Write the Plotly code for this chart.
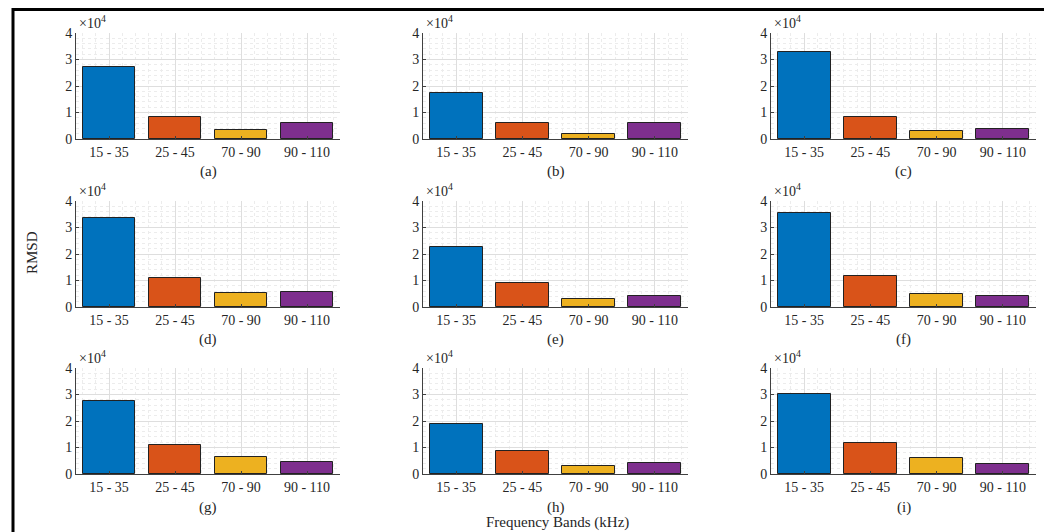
import plotly.graph_objects as go

W, H = 1052, 532
OFF = 8                      # page body margin in the browser
FW, FH = W - OFF, H - OFF    # figure size so that it ends at the window edge

bands = ["15 - 35", "25 - 45", "70 - 90", "90 - 110"]
panel_labels = ["(a)", "(b)", "(c)", "(d)", "(e)", "(f)", "(g)", "(h)", "(i)"]

rmsd_a = [27000, 8200, 3300, 6200]
rmsd_b = [17500, 6200, 1900, 6200]
rmsd_c = [33000, 8400, 3100, 3900]
rmsd_d = [33700, 10900, 5200, 5600]
rmsd_e = [22600, 8900, 3000, 4000]
rmsd_f = [35500, 11600, 4900, 4300]
rmsd_g = [27500, 10900, 6300, 4400]
rmsd_h = [19000, 8700, 3000, 4000]
rmsd_i = [30300, 11600, 6200, 3900]

y_ticks = [0, 10000, 20000, 30000, 40000]
y_ticktext = ["0", "1", "2", "3", "4"]

colors = ["#0072BD", "#D95319", "#EDB120", "#7E2F8E"]

series = [rmsd_a, rmsd_b, rmsd_c, rmsd_d, rmsd_e, rmsd_f, rmsd_g, rmsd_h, rmsd_i]

# layout geometry in page pixels
cols_px = [(76, 340), (423, 688), (771, 1036)]
rows_px = [(33, 139), (201, 307), (368, 474)]


def px(xp):
    return (xp - OFF) / FW


def py(yp):
    return 1 - (yp - OFF) / FH


FONT = "Liberation Serif, Times New Roman, serif"
TXT = "#262626"

fig = go.Figure()
annotations = []
x_pos = list(range(1, len(bands) + 1))

for k, vals in enumerate(series):
    r, c = divmod(k, 3)
    ax = "" if k == 0 else str(k + 1)
    fig.add_trace(go.Bar(
        x=x_pos, y=vals, width=0.8,
        marker=dict(color=colors, line=dict(color="#222222", width=1)),
        xaxis="x" + ax, yaxis="y" + ax, showlegend=False,
    ))
    x0, x1 = cols_px[c]
    y0, y1 = rows_px[r]
    common_grid = dict(
        showgrid=True, gridcolor="#dedede", gridwidth=1,
        showline=True, linecolor="#404040", linewidth=1,
        ticks="inside", ticklen=3, tickcolor="#404040",
        tickfont=dict(family=FONT, size=14, color=TXT),
        zeroline=False, fixedrange=True, automargin=False,
    )
    fig.layout["xaxis" + ax] = dict(
        domain=[px(x0), px(x1)], anchor="y" + ax,
        range=[0.5, 4.5], tickvals=x_pos, ticktext=bands,
        minor=dict(dtick=0.2, tick0=0, showgrid=True, gridcolor="#ececec",
                   griddash="dot", ticks=""),
        **common_grid,
    )
    fig.layout["yaxis" + ax] = dict(
        domain=[py(y1), py(y0)], anchor="x" + ax,
        range=[0, 40000], tickvals=y_ticks, ticktext=y_ticktext,
        minor=dict(dtick=2000, showgrid=True, gridcolor="#ececec",
                   griddash="dot", ticks=""),
        **common_grid,
    )
    # x10^4 exponent label
    annotations.append(dict(
        text="\u00d710<sup>4</sup>", x=px(x0 + 1), y=py(y0 - 11),
        xref="paper", yref="paper", xanchor="left", yanchor="middle",
        showarrow=False, font=dict(family=FONT, size=14, color=TXT),
    ))
    # panel label
    annotations.append(dict(
        text=panel_labels[k], x=px((x0 + x1) / 2), y=py(y1 + 33),
        xref="paper", yref="paper", xanchor="center", yanchor="middle",
        showarrow=False, font=dict(family=FONT, size=15, color=TXT),
    ))

annotations.append(dict(
    text="RMSD", x=px(32), y=py(253), xref="paper", yref="paper",
    xanchor="center", yanchor="middle", textangle=-90, showarrow=False,
    font=dict(family=FONT, size=15, color=TXT),
))
annotations.append(dict(
    text="Frequency Bands (kHz)", x=px(557), y=py(522), xref="paper",
    yref="paper", xanchor="center", yanchor="middle", showarrow=False,
    font=dict(family=FONT, size=15, color=TXT),
))

fig.update_layout(
    width=FW, height=FH, margin=dict(l=0, r=0, t=0, b=0, autoexpand=False),
    paper_bgcolor="white", plot_bgcolor="white",
    annotations=annotations, bargap=0,
    shapes=[dict(type="rect", xref="paper", yref="paper",
                 x0=px(13), x1=px(1046), y0=-0.05, y1=py(9.5),
                 line=dict(color="black", width=3), fillcolor="rgba(0,0,0,0)",
                 layer="above")],
)

fig.write_html("out.html")
